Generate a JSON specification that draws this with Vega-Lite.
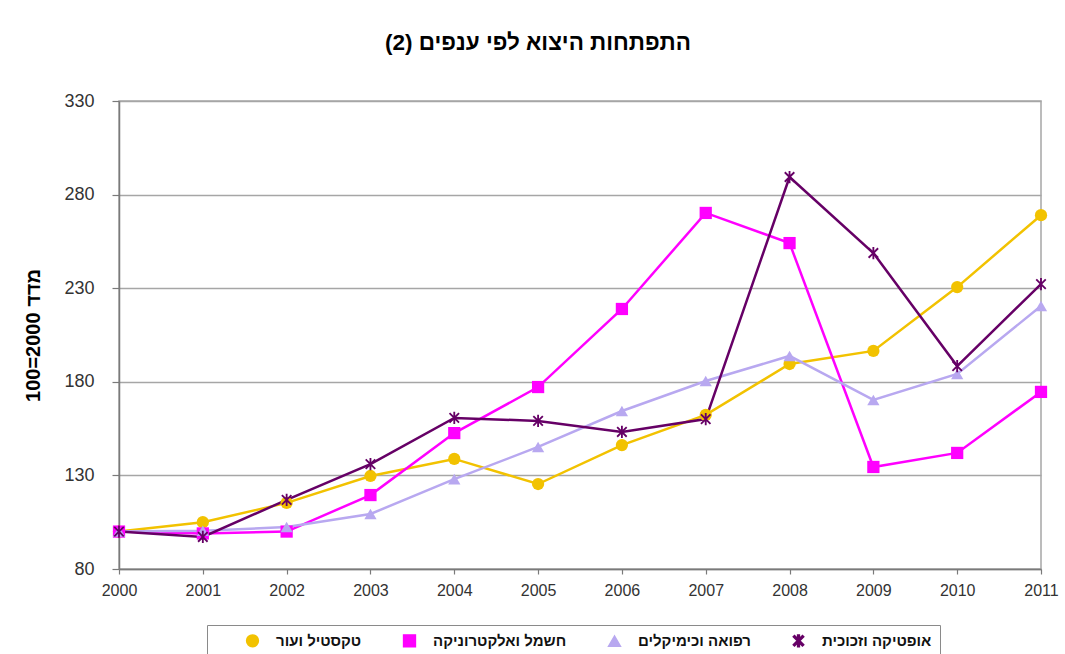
{
  "$schema": "https://vega.github.io/schema/vega-lite/v6.json",
  "width": 922,
  "height": 468,
  "autosize": {"type": "none"},
  "padding": {"left": 119, "top": 101, "right": 24, "bottom": 85},
  "background": "white",
  "title": {
    "text": "התפתחות היצוא לפי ענפים (2)‏",
    "font": "Liberation Sans",
    "fontSize": 22.5,
    "fontWeight": "bold",
    "color": "#000000",
    "anchor": "middle",
    "dx": -42,
    "offset": 38
  },
  "data": {
    "values": [
      {"series": "טקסטיל ועור", "year": 2000, "value": 100},
      {"series": "טקסטיל ועור", "year": 2001, "value": 105},
      {"series": "טקסטיל ועור", "year": 2002, "value": 115.3},
      {"series": "טקסטיל ועור", "year": 2003, "value": 129.7},
      {"series": "טקסטיל ועור", "year": 2004, "value": 138.8},
      {"series": "טקסטיל ועור", "year": 2005, "value": 125.4},
      {"series": "טקסטיל ועור", "year": 2006, "value": 146.2},
      {"series": "טקסטיל ועור", "year": 2007, "value": 162.3},
      {"series": "טקסטיל ועור", "year": 2008, "value": 189.5},
      {"series": "טקסטיל ועור", "year": 2009, "value": 196.5},
      {"series": "טקסטיל ועור", "year": 2010, "value": 230.6},
      {"series": "טקסטיל ועור", "year": 2011, "value": 269},
      {"series": "חשמל ואלקטרוניקה", "year": 2000, "value": 100},
      {"series": "חשמל ואלקטרוניקה", "year": 2001, "value": 99},
      {"series": "חשמל ואלקטרוניקה", "year": 2002, "value": 100},
      {"series": "חשמל ואלקטרוניקה", "year": 2003, "value": 119.5},
      {"series": "חשמל ואלקטרוניקה", "year": 2004, "value": 152.6},
      {"series": "חשמל ואלקטרוניקה", "year": 2005, "value": 177.2},
      {"series": "חשמל ואלקטרוניקה", "year": 2006, "value": 218.9},
      {"series": "חשמל ואלקטרוניקה", "year": 2007, "value": 270.2},
      {"series": "חשמל ואלקטרוניקה", "year": 2008, "value": 254.1},
      {"series": "חשמל ואלקטרוניקה", "year": 2009, "value": 134.5},
      {"series": "חשמל ואלקטרוניקה", "year": 2010, "value": 142},
      {"series": "חשמל ואלקטרוניקה", "year": 2011, "value": 174.6},
      {"series": "רפואה וכימיקלים", "year": 2000, "value": 100},
      {"series": "רפואה וכימיקלים", "year": 2001, "value": 100.4},
      {"series": "רפואה וכימיקלים", "year": 2002, "value": 102.4},
      {"series": "רפואה וכימיקלים", "year": 2003, "value": 109.4},
      {"series": "רפואה וכימיקלים", "year": 2004, "value": 128},
      {"series": "רפואה וכימיקלים", "year": 2005, "value": 145.2},
      {"series": "רפואה וכימיקלים", "year": 2006, "value": 164.4},
      {"series": "רפואה וכימיקלים", "year": 2007, "value": 180.4},
      {"series": "רפואה וכימיקלים", "year": 2008, "value": 193.8},
      {"series": "רפואה וכימיקלים", "year": 2009, "value": 170.3},
      {"series": "רפואה וכימיקלים", "year": 2010, "value": 184.2},
      {"series": "רפואה וכימיקלים", "year": 2011, "value": 220.5},
      {"series": "אופטיקה וזכוכית", "year": 2000, "value": 100},
      {"series": "אופטיקה וזכוכית", "year": 2001, "value": 97.1},
      {"series": "אופטיקה וזכוכית", "year": 2002, "value": 116.9},
      {"series": "אופטיקה וזכוכית", "year": 2003, "value": 136},
      {"series": "אופטיקה וזכוכית", "year": 2004, "value": 160.7},
      {"series": "אופטיקה וזכוכית", "year": 2005, "value": 159.1},
      {"series": "אופטיקה וזכוכית", "year": 2006, "value": 153.2},
      {"series": "אופטיקה וזכוכית", "year": 2007, "value": 160.1},
      {"series": "אופטיקה וזכוכית", "year": 2008, "value": 289.4},
      {"series": "אופטיקה וזכוכית", "year": 2009, "value": 248.8},
      {"series": "אופטיקה וזכוכית", "year": 2010, "value": 188.4},
      {"series": "אופטיקה וזכוכית", "year": 2011, "value": 232.2}
    ]
  },
  "encoding": {
    "x": {
      "field": "year",
      "type": "quantitative",
      "scale": {"domain": [2000, 2011], "nice": false, "zero": false},
      "axis": {
        "title": null,
        "values": [2000, 2001, 2002, 2003, 2004, 2005, 2006, 2007, 2008, 2009, 2010, 2011],
        "format": "d",
        "grid": false,
        "labelFlush": false,
        "labelFontSize": 16,
        "labelPadding": 8,
        "tickSize": 5
      }
    },
    "y": {
      "field": "value",
      "type": "quantitative",
      "scale": {"domain": [80, 330], "nice": false, "zero": false},
      "axis": {
        "title": "מדד 2000=100",
        "values": [80, 130, 180, 230, 280, 330],
        "grid": true,
        "labelFontSize": 18,
        "labelPadding": 18,
        "tickSize": 7,
        "titleFontSize": 20,
        "titleFontWeight": "bold",
        "titleColor": "#000000",
        "titlePadding": 20
      }
    },
    "color": {
      "field": "series",
      "type": "nominal",
      "scale": {
        "domain": ["טקסטיל ועור", "חשמל ואלקטרוניקה", "רפואה וכימיקלים", "אופטיקה וזכוכית"],
        "range": ["#F2C200", "#FF00FF", "#B8A8F0", "#660066"]
      },
      "legend": {
        "title": null,
        "orient": "none",
        "direction": "horizontal",
        "legendX": 88,
        "legendY": 524,
        "strokeColor": "#8a8a8a",
        "fillColor": "#ffffff",
        "padding": 8,
        "symbolOffset": 30,
        "labelOffset": 16,
        "columnPadding": 10,
        "labelFontSize": 15,
        "labelFontWeight": "bold",
        "labelColor": "#111111",
        "symbolSize": 140,
        "labelLimit": 300
      }
    }
  },
  "layer": [
    {"mark": {"type": "line", "strokeWidth": 2.5}},
    {
      "mark": {"type": "point", "filled": true, "size": 150, "opacity": 1},
      "encoding": {
        "shape": {
          "field": "series",
          "type": "nominal",
          "scale": {
            "domain": ["טקסטיל ועור", "חשמל ואלקטרוניקה", "רפואה וכימיקלים", "אופטיקה וזכוכית"],
            "range": ["circle", "square", "triangle-up", "M-0.15,-1L0.15,-1L0.15,1L-0.15,1ZM0.672,0.884L-0.884,-0.672L-0.672,-0.884L0.884,0.672ZM-0.672,0.884L-0.884,0.672L0.672,-0.884L0.884,-0.672Z"]
          },
          "legend": {
            "title": null,
            "orient": "none",
            "direction": "horizontal",
            "legendX": 88,
            "legendY": 524,
            "strokeColor": "#8a8a8a",
            "fillColor": "#ffffff",
            "padding": 8,
            "symbolOffset": 30,
            "labelOffset": 16,
            "columnPadding": 10,
            "labelFontSize": 15,
            "labelFontWeight": "bold",
            "labelColor": "#111111",
            "symbolSize": 140,
            "labelLimit": 300
          }
        }
      }
    }
  ],
  "config": {
    "font": "Liberation Sans",
    "view": {"stroke": "#a6a6a6", "strokeWidth": 1.5},
    "axis": {
      "domainColor": "#7a7a7a",
      "domainWidth": 1.5,
      "tickColor": "#7a7a7a",
      "tickWidth": 1.2,
      "gridColor": "#a6a6a6",
      "gridWidth": 1.5,
      "labelColor": "#333333",
      "labelFont": "Liberation Sans",
      "titleFont": "Liberation Sans"
    }
  }
}
